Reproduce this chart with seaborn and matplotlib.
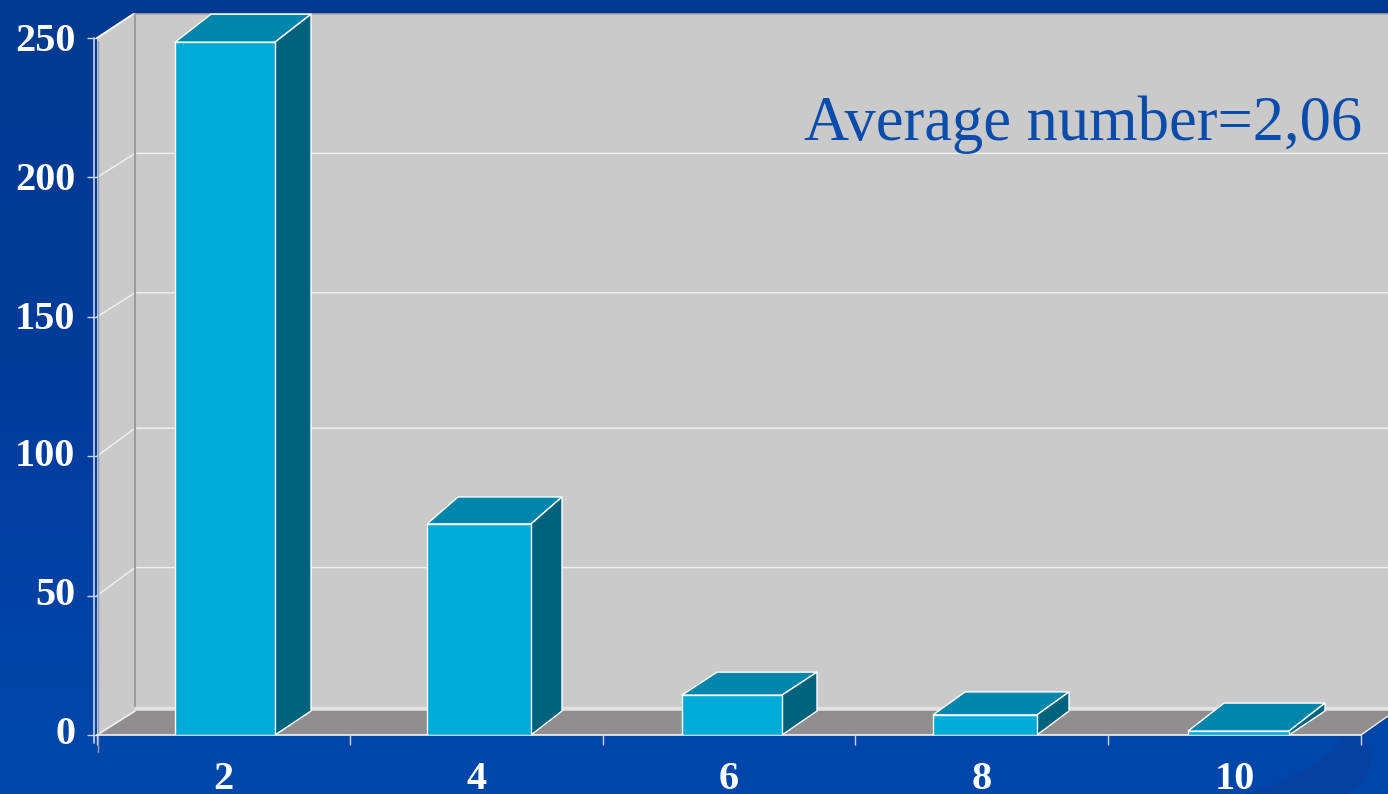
import numpy as np
import matplotlib
matplotlib.use("Agg")
import matplotlib.pyplot as plt
from matplotlib.colors import LinearSegmentedColormap
from matplotlib.patches import PathPatch, Polygon, Rectangle
from matplotlib.path import Path
from matplotlib.transforms import ScaledTranslation
import seaborn as sns

# data
categories = ["2", "4", "6", "8", "10"]
counts = [248.5, 75.7, 14.3, 7.2, 1.4]
y_ticks = [0, 50, 100, 150, 200, 250]
note = "Average number=2,06"

W, H = 1388, 794
FRONT = "#00ABD8"
TOP = "#0086AB"
SIDE = "#00627C"
WALL = "#CACACA"
FLOOR = "#908E8F"
NOTE_BLUE = "#0A4CAB"

sns.set_theme(style="white")
plt.rcParams["font.family"] = ["Liberation Serif", "DejaVu Serif"]

fig = plt.figure(figsize=(W / 100, H / 100), dpi=100)

# slide background
bg = fig.add_axes([0, 0, 1, 1], zorder=0)
cmap = LinearSegmentedColormap.from_list("slide", ["#003A90", "#003C9C", "#0047AB"])
bg.imshow(np.linspace(0, 1, 256).reshape(-1, 1), cmap=cmap, aspect="auto", extent=[0, W, H, 0])
swoosh = Path(
    [(1245, 794), (1305, 775), (1338, 752), (1345, 735), (1372, 735), (1385, 765), (1348, 794), (1245, 794)],
    [Path.MOVETO, Path.CURVE4, Path.CURVE4, Path.CURVE4, Path.CURVE4, Path.CURVE4, Path.CURVE4, Path.CLOSEPOLY],
)
bg.add_patch(PathPatch(swoosh, fc="#0640A0", ec="none"))
bg.set_xlim(0, W)
bg.set_ylim(H, 0)
bg.axis("off")

# chart axes, x 97..1361 px and y 735..38 px
ax = fig.add_axes([97 / W, 1 - 735 / H, 1264 / W, 697 / H], zorder=1)
ax.patch.set_alpha(0)

sns.barplot(x=categories, y=counts, order=categories, width=0.4, color=FRONT, saturation=1,
            edgecolor="white", linewidth=1, ax=ax, zorder=4)
ax.set_xlim(-0.5, 4.5)
ax.set_ylim(0, 250)

px_x = 1264 / 5
px_y = 697 / 250
dx = 38 / px_x   # wall depth
dy = 24 / px_y
right = 4.5 + 27 / px_x
roof = 250 + dy

# the original's fake perspective is not quite regular, all in pixels
bar_shift = [1.6, 2.8, 3, 3.2, 3.9]
bar_px = [100, 104, 100, 104, 101]
bar_depth = [36, 31, 35, 32, 36]
bar_rise = [28, 27, 23, 23, 28]
grid_rise = [28, 28, 24, 24]

# walls and floor
ax.add_patch(Rectangle((-0.5 + dx, dy), right - (-0.5 + dx), roof - dy, fc=WALL, ec="none", clip_on=False, zorder=1))
ax.add_patch(Polygon([(-0.5, 0), (-0.5 + dx, dy), (-0.5 + dx, roof), (-0.5, 250)], fc=WALL, ec="none", clip_on=False, zorder=1))
ax.add_patch(Polygon([(-0.5, 0), (-0.5 + dx, dy), (right, dy), (right, 19 / px_y), (4.5, 0)], fc=FLOOR, ec="none", clip_on=False, zorder=1))

for t, rise in zip(y_ticks[1:-1], grid_rise):
    up = t + rise / px_y
    ax.plot([-0.5, -0.5 + dx, right], [t, up, up], color="#F2F2F2", lw=1, clip_on=False, zorder=2)

ax.plot([-0.5 + dx, -0.5 + dx], [dy, roof], color="#9C9C9C", lw=1.5, clip_on=False, zorder=2)
ax.plot([-0.5 + dx, right], [roof, roof], color="#A5A5A5", lw=1.2, clip_on=False, zorder=2)
ax.plot([-0.5 + dx, right], [dy + 1.2, dy + 1.2], color="#E2E2E2", lw=2.5, clip_on=False, zorder=2)
ax.plot([-0.5, -0.5 + dx], [0, dy], color="#F2F2F2", lw=1.2, clip_on=False, zorder=2)
ax.plot([-0.5, -0.5 + dx - 1.5 / px_x], [250, roof], color="white", lw=1.4, clip_on=False, zorder=2)
ax.plot([-0.51, -0.51], [-3, 250], color="#C9D6EE", lw=1.2, clip_on=False, zorder=3)
ax.plot([-0.5 + 1 / px_x] * 2, [-6, 249], color="#8F9DB8", lw=1, clip_on=False, zorder=3)
ax.plot([-0.5, 4.5], [0, 0], color="#F2F2F2", lw=1.2, clip_on=False, zorder=3)
ax.plot([4.5, right], [0, 19 / px_y], color="#F2F2F2", lw=1, clip_on=False, zorder=3)

# depth of each bar, built from the bars seaborn drew
for bar, shift, wide, depth, rise in zip(ax.patches[:len(categories)], bar_shift, bar_px, bar_depth, bar_rise):
    centre = bar.get_x() + bar.get_width() / 2 + shift / px_x
    bar.set_width(wide / px_x)
    bar.set_x(centre - wide / px_x / 2)
    x0, x1 = bar.get_x(), bar.get_x() + bar.get_width()
    h = bar.get_height()
    rise_y = rise / px_y
    back = depth / px_x
    ax.add_patch(Polygon([(x0, h), (x1, h), (x1 + back, h + rise_y), (x0 + back, h + rise_y)],
                         fc=TOP, ec="white", lw=1, clip_on=False, zorder=3))
    ax.add_patch(Polygon([(x1, 0), (x1 + back, dy), (x1 + back, h + rise_y), (x1, h)],
                         fc=SIDE, ec="white", lw=1, clip_on=False, zorder=3))

sns.despine(ax=ax, left=True, bottom=True)
ax.set_yticks(y_ticks)
ax.set_xticks(range(len(categories)))
ax.set_xticklabels(categories)
ax.set_xticks(np.arange(-0.5, 5), minor=True)
ax.tick_params(axis="y", length=7, width=1, color="#C9D6EE", left=True, pad=8.5,
               labelsize=29, labelcolor="white")
ax.tick_params(axis="x", which="major", length=0, pad=18.5, labelsize=29, labelcolor="white")
ax.tick_params(axis="x", which="minor", length=7, width=1, color="#C9D6EE", bottom=True)
for label in ax.get_xticklabels() + ax.get_yticklabels():
    label.set_fontweight("bold")

# y labels sit a little above their ticks in the original, more so at the bottom
label_lift = [5, 5, 4, 2, 1, 1]
for label, lift in zip(ax.get_yticklabels(), label_lift):
    label.set_transform(label.get_transform() + ScaledTranslation(0, lift / 100, fig.dpi_scale_trans))

fig.text(1362 / W, 1 - 140 / H, note, color=NOTE_BLUE, fontsize=45, ha="right", va="baseline", zorder=5)

fig.savefig("out.png", dpi=100)
